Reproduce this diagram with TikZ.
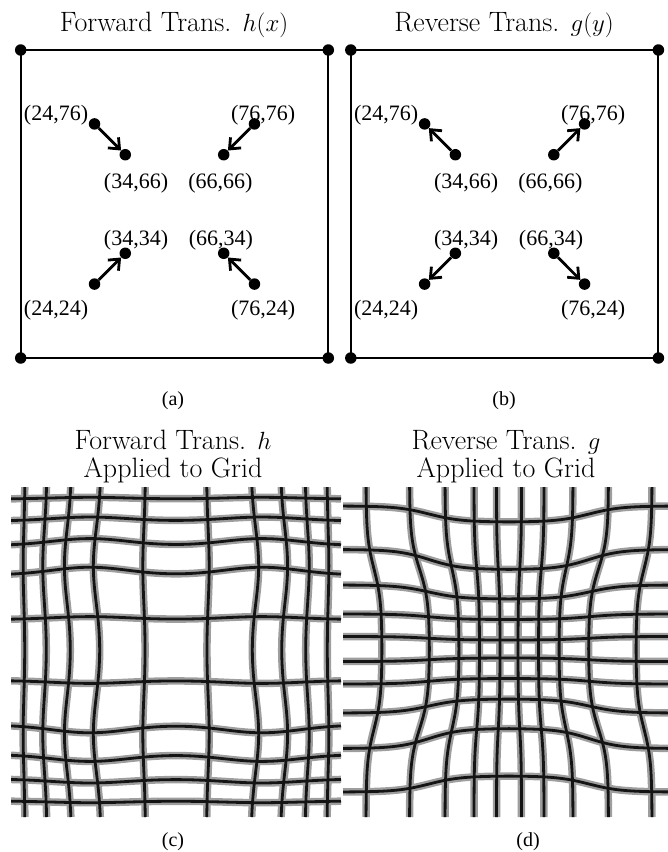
\documentclass[tikz,border=0pt]{standalone}
\usepackage{fontspec}
\newfontfamily\timesfont{Liberation Serif}
\usetikzlibrary{arrows.meta}

\begin{document}
\begin{tikzpicture}[
    x=1pt,y=-1pt,
    paneltitle/.style={font=\fontsize{28}{28}\selectfont,align=center},
    coordlabel/.style={font=\timesfont\fontsize{22}{24}\selectfont,inner sep=0pt},
    subcap/.style={font=\timesfont\fontsize{20}{22}\selectfont,inner sep=0pt},
    dot/.style={circle,fill=black,inner sep=0pt,minimum size=11.5pt},
    boxline/.style={line width=2pt},
    move/.style={-{Straight Barb[length=9pt,width=15pt]},line width=2.8pt},
    gridhalo/.style={draw=black!38,line width=7.5pt},
    gridcore/.style={draw=black!92,line width=2.8pt},
    declare function={
      bump(\p,\q)=exp(max(-9,-0.5*((\p)*(\p)+(\q)*(\q))));
      fwdx(\p,\q)=-bump((\p-90)/38,(\q-566)/38)+bump((\p-262)/38,(\q-566)/38)
                  -bump((\p-90)/38,(\q-734)/38)+bump((\p-262)/38,(\q-734)/38);
      fwdy(\p,\q)=-bump((\p-90)/38,(\q-566)/38)-bump((\p-262)/38,(\q-566)/38)
                  +bump((\p-90)/38,(\q-734)/38)+bump((\p-262)/38,(\q-734)/38);
      squash(\p)=1/(1+exp(-(abs(\p)-80)/16));
    }
  ]
  \useasboundingbox (0,0) rectangle (668,852);

  % (a) forward transformation
  \node[paneltitle,anchor=base] (ttl-a) at (174,31) {Forward Trans. $h(x)$};
  \begin{scope}[shift={(20.7,358)},x=3.076pt,y=3.08pt]
    \node[dot] (a-sw) at (0,0) {};
    \node[dot] (a-se) at (100,0) {};
    \node[dot] (a-ne) at (100,100) {};
    \node[dot] (a-nw) at (0,100) {};
    \draw[boxline] (a-sw.center) -- (a-se.center) -- (a-ne.center)
      -- (a-nw.center) -- cycle;
    \foreach \n/\ox/\oy/\ix/\iy in {1/24/76/34/66,2/76/76/66/66,
        3/24/24/34/34,4/76/24/66/34}{
      \node[dot] (a-out\n) at (\ox,\oy) {};
      \node[dot] (a-in\n) at (\ix,\iy) {};
      \draw[move] (a-out\n) -- (a-in\n);
    }
    \foreach \n/\lx/\ly/\txt in {1/11.5/78.9/{(24,76)},2/78.8/78.9/{(76,76)},
        3/37.5/56.8/{(34,66)},4/64.9/56.8/{(66,66)},5/37.5/38.3/{(34,34)},
        6/65.1/38.3/{(66,34)},7/11.5/15.6/{(24,24)},8/78.8/15.6/{(76,24)}}
      \node[coordlabel] (a-lbl\n) at (\lx,\ly) {\txt};
  \end{scope}
  \node[subcap] (cap-a) at (173,401) {(a)};

  % (b) reverse transformation
  \node[paneltitle,anchor=base] (ttl-b) at (504,31) {Reverse Trans. $g(y)$};
  \begin{scope}[shift={(350.8,358)},x=3.076pt,y=3.08pt]
    \node[dot] (b-sw) at (0,0) {};
    \node[dot] (b-se) at (100,0) {};
    \node[dot] (b-ne) at (100,100) {};
    \node[dot] (b-nw) at (0,100) {};
    \draw[boxline] (b-sw.center) -- (b-se.center) -- (b-ne.center)
      -- (b-nw.center) -- cycle;
    \foreach \n/\ox/\oy/\ix/\iy in {1/24/76/34/66,2/76/76/66/66,
        3/24/24/34/34,4/76/24/66/34}{
      \node[dot] (b-out\n) at (\ox,\oy) {};
      \node[dot] (b-in\n) at (\ix,\iy) {};
      \draw[move] (b-in\n) -- (b-out\n);
    }
    \foreach \n/\lx/\ly/\txt in {1/11.5/78.9/{(24,76)},2/78.8/78.9/{(76,76)},
        3/37.5/56.8/{(34,66)},4/64.9/56.8/{(66,66)},5/37.5/38.3/{(34,34)},
        6/65.1/38.3/{(66,34)},7/11.5/15.6/{(24,24)},8/78.8/15.6/{(76,24)}}
      \node[coordlabel] (b-lbl\n) at (\lx,\ly) {\txt};
  \end{scope}
  \node[subcap] (cap-b) at (504,401) {(b)};

  % (c) h applied to grid
  \node[paneltitle,anchor=base] (ttl-c) at (173,477)
    {Forward Trans. $h$\\Applied to Grid};
  \begin{scope}
    \clip (11,487) rectangle (341,817);
    \foreach \lay in {gridhalo,gridcore}
      \foreach \b in {-151,-129,-104.5,-75,-30.5,30.5,75,104.5,129,151}{
        \draw[\lay] plot[variable=\t,domain=487:817,samples=45,smooth]
          ({176+\b+8*fwdx(176+\b,\t)},{\t});
        \draw[\lay] plot[variable=\t,domain=11:341,samples=45,smooth]
          ({\t},{650+\b+8*fwdy(\t,650+\b)});
      }
  \end{scope}
  \node[subcap] (cap-c) at (173,842) {(c)};

  % (d) g applied to grid
  \node[paneltitle,anchor=base] (ttl-d) at (506,477)
    {Reverse Trans. $g$\\Applied to Grid};
  \begin{scope}
    \clip (343,487) rectangle (668,817);
    \foreach \lay in {gridhalo,gridcore}
      \foreach \c/\e in {9/12.5,29.5/35,50/64,79.5/99.5,127/143}
        \foreach \s in {-1,1}{
          \draw[\lay] plot[variable=\t,domain=487:817,samples=50,smooth]
            ({509+\s*(\c+(\e-\c)*squash(\t-649))},{\t});
          \draw[\lay] plot[variable=\t,domain=343:668,samples=50,smooth]
            ({\t},{649+\s*(\c+(\e-\c)*squash(\t-509))});
        }
  \end{scope}
  \node[subcap] (cap-d) at (528,842) {(d)};
\end{tikzpicture}
\end{document}
